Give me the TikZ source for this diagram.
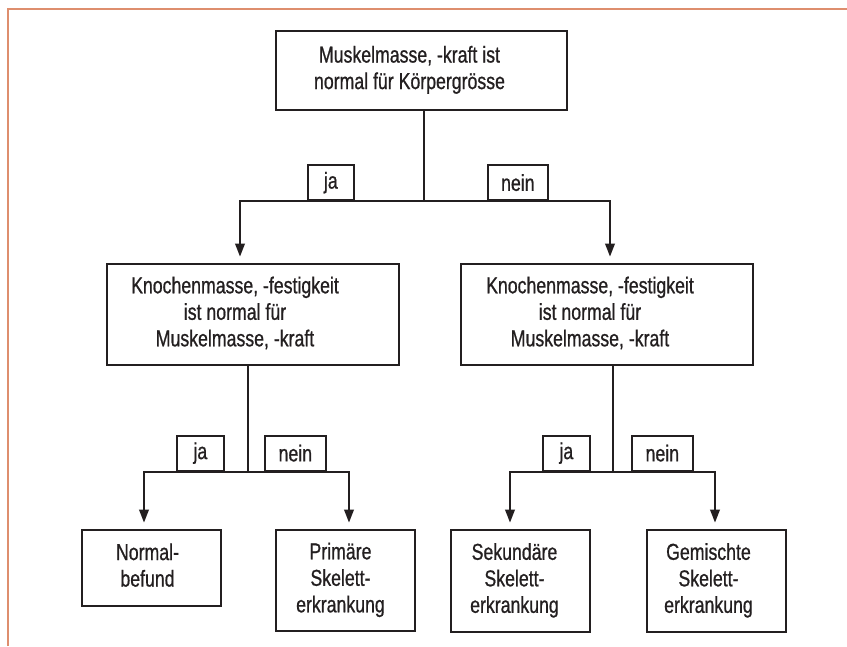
\documentclass[tikz,border=0pt]{standalone}
\usepackage{fontspec}
\setmainfont{Liberation Sans}[FakeStretch=0.77,FakeBold=0.8]
\usepackage{tikz}
\usetikzlibrary{calc, positioning, arrows.meta}
\definecolor{framecol}{RGB}{222,142,110}
\definecolor{inkcol}{RGB}{35,31,32}
\newcommand{\boxlines}[2]{\begin{tabular}{@{}c@{}}#2\end{tabular}\hspace*{#1}}

\begin{document}
\begin{tikzpicture}[x=1pt,y=-1pt,color=inkcol,line width=2pt,
                    box node/.style={rectangle,draw,line width=1.7pt,fill=white,inner sep=0pt,font=\fontsize{23}{26.5}\selectfont},
                    tag node/.style={rectangle,draw,line width=1.7pt,fill=white,anchor=south west,inner sep=0pt,minimum height=35pt,font=\fontsize{23}{26.5}\selectfont},
                    arrow/.style={-{Triangle[length=13pt,width=9.5pt]},shorten >=6.5pt}]
\useasboundingbox (0,0) rectangle (847,646);

% frame
\draw[framecol,line width=2.2pt] (8,646) -- (8,9) -- (847,9);

% boxes
\node[box node,minimum width=291pt,minimum height=79pt] (Top) at (421.5,70.5) {\boxlines{24pt}{Muskelmasse, -kraft ist\\normal für Körpergrösse}};
\node[box node,minimum width=292pt,minimum height=101pt] (MidL) at (253,314.5) {\boxlines{36pt}{Knochenmasse, -festigkeit\\ist normal für\\Muskelmasse, -kraft}};
\node[box node,minimum width=292pt,minimum height=101pt] (MidR) at (607,314.5) {\boxlines{34pt}{Knochenmasse, -festigkeit\\ist normal für\\Muskelmasse, -kraft}};
\node[box node,minimum width=139pt,minimum height=76pt] (Normal) at (151.5,568) {\boxlines{8pt}{Normal-\\befund}};
\node[box node,minimum width=139pt,minimum height=101pt] (Primaer) at (345.5,580.5) {\boxlines{10pt}{Primäre\\Skelett-\\erkrankung}};
\node[box node,minimum width=139pt,minimum height=102pt] (Sekundaer) at (520.5,581) {\boxlines{12pt}{Sekundäre\\Skelett-\\erkrankung}};
\node[box node,minimum width=139pt,minimum height=102pt] (Gemischt) at (716.5,581) {\boxlines{16pt}{Gemischte\\Skelett-\\erkrankung}};

% ja / nein tags
\foreach \n/\x/\y/\w/\t in {TopJa/307/201/46/ja, TopNein/487/201/60/nein,
                            LJa/176/471.5/47/ja, LNein/264/471.5/61/nein,
                            RJa/542/471.5/47/ja, RNein/631/471.5/61/nein}
   \node[tag node,minimum width=\w pt] (\n) at (\x,\y) {\t};

% branch points
\coordinate (TopSplit) at (424,201);
\coordinate (LSplit) at (248,471.5);
\coordinate (RSplit) at (613,471.5);

\draw (Top.south -| TopSplit) -- (TopSplit);
\draw[arrow] (TopSplit) -| ([xshift=-13pt]MidL.north);
\draw[arrow] (TopSplit) -| ([xshift=3pt]MidR.north);

\draw (MidL.south -| LSplit) -- (LSplit);
\draw[arrow] (LSplit) -| ([xshift=-7.5pt]Normal.north);
\draw[arrow] (LSplit) -| ([xshift=3.5pt]Primaer.north);

\draw (MidR.south -| RSplit) -- (RSplit);
\draw[arrow] (RSplit) -| ([xshift=-10.5pt]Sekundaer.north);
\draw[arrow] (RSplit) -| ([xshift=-1.5pt]Gemischt.north);

\end{tikzpicture}
\end{document}
